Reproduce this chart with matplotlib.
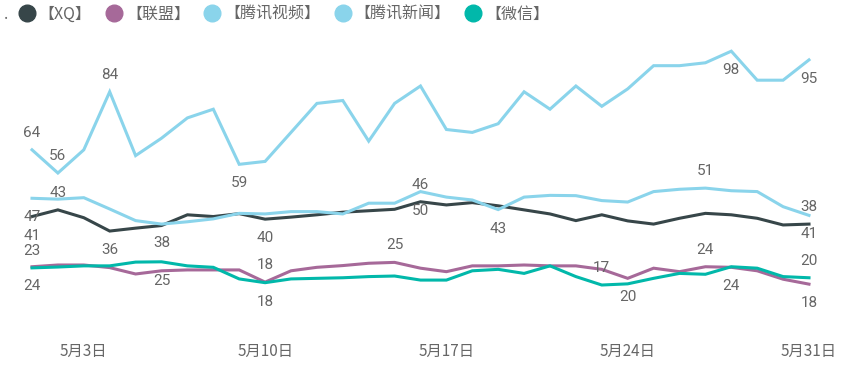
import matplotlib
matplotlib.use("Agg")
import matplotlib.pyplot as plt
from matplotlib.lines import Line2D

plt.rcParams['font.family'] = ['Noto Sans CJK SC', 'DejaVu Sans']

days = list(range(1, 32))
tick_days = [3, 10, 17, 24, 31]
tick_labels = ["5月3日", "5月10日", "5月17日", "5月24日", "5月31日"]

series_names = ["【XQ】", "【联盟】", "【腾讯视频】", "【腾讯新闻】", "【微信】"]
colors = ["#374649", "#A66999", "#8AD4EB", "#8AD4EB", "#01B8AA"]

xq = [41.0, 43.3, 40.6, 36.0, 37.0, 37.9, 41.6, 41.0, 42.0, 40.1,
      40.8, 41.6, 42.5, 43.0, 43.5, 46.1, 45.0, 45.8, 44.7, 43.3,
      41.9, 39.6, 41.6, 39.5, 38.4, 40.4, 42.1, 41.6, 40.4, 38.1, 38.4]
lianmeng = [23.7, 24.3, 24.3, 23.4, 21.2, 22.3, 22.6, 22.6, 22.6, 18.4,
            22.3, 23.5, 24.1, 24.9, 25.2, 23.2, 22.0, 24.0, 24.0, 24.3,
            24.0, 24.0, 22.8, 19.7, 23.2, 22.0, 23.7, 23.5, 22.3, 19.4, 17.7]
tx_video = [64, 56, 64, 84, 62, 68, 75, 78, 59, 60,
            70, 80, 81, 67, 80, 86, 71, 70, 73, 84,
            78, 86, 79, 85, 93, 93, 94, 98, 88, 88, 95]
tx_news = [47.3, 47.0, 47.5, 43.6, 39.6, 38.4, 39.2, 40.2, 42.1, 41.9,
           42.7, 42.7, 41.9, 45.6, 45.6, 49.6, 47.7, 46.7, 43.4, 47.7,
           48.3, 48.2, 46.5, 46.0, 49.6, 50.4, 50.8, 49.9, 49.6, 44.4, 41.4]
weixin = [23.3, 23.6, 24.0, 24.0, 25.3, 25.4, 24.0, 23.5, 19.5, 18.2,
          19.5, 19.7, 19.9, 20.3, 20.5, 19.1, 19.1, 22.3, 22.8, 21.4,
          24.0, 20.3, 17.4, 17.8, 19.7, 21.4, 21.1, 23.7, 23.2, 20.3, 19.9]

all_series = [xq, lianmeng, tx_video, tx_news, weixin]

# data labels: (series index, day, above?)
labels = [
    (2, 1, True), (2, 2, True), (2, 4, True), (2, 9, False), (2, 28, False), (2, 31, False),
    (3, 1, False), (3, 6, False), (3, 16, False), (3, 19, False), (3, 27, True), (3, 31, False),
    (0, 1, False), (0, 2, True), (0, 4, False), (0, 10, False), (0, 16, True), (0, 31, True),
    (1, 1, False), (1, 10, True), (1, 15, True), (1, 24, False), (1, 27, True), (1, 31, False),
    (4, 1, True), (4, 6, False), (4, 10, False), (4, 23, True), (4, 28, False), (4, 31, True),
]

fig = plt.figure(figsize=(8.48, 3.7), dpi=100)
ax = fig.add_axes([0, 35 / 370, 1, 305 / 370])

for vals, c in zip(all_series, colors):
    ax.plot(days, vals, color=c, lw=2.2, solid_joinstyle='miter')

for si, d, above in labels:
    v = all_series[si][d - 1]
    ax.annotate(f"{v:.0f}", (d, v), xytext=(0, 17 if above else -19),
                textcoords='offset pixels', ha='center', va='center',
                fontsize=11, color='#666666', family=['Roboto', 'DejaVu Sans'])

ax.set_xlim(-0.2355, 32.506)
ax.set_ylim(0.17, 105.3)
ax.set_xticks(tick_days)
ax.set_xticklabels(tick_labels, fontsize=11, color='#666666')
ax.tick_params(axis='x', length=0, pad=6)
ax.set_yticks([])
for s in ax.spines.values():
    s.set_visible(False)

handles = [Line2D([], [], ls='none', marker='o', ms=12, color=c) for c in colors]
fig.text(0.005, 0.962, ".", fontsize=11, color='#666666', va='center')
fig.legend(handles, series_names, loc='center left', bbox_to_anchor=(0.024, 0.962),
           ncol=5, frameon=False, fontsize=11.5, labelcolor='#666666',
           handlelength=0.8, handletextpad=0.35, columnspacing=1.0, borderaxespad=0,
           borderpad=0)

fig.savefig("out.png", dpi=100)
